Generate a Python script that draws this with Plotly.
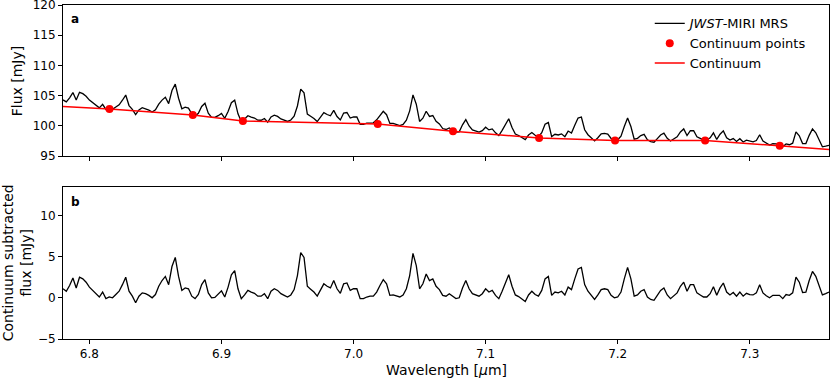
import numpy as np
import plotly.graph_objects as go

# wavelength grid of the extracted spectrum (micron)
wave_start = 6.78
wave_step = 0.0025

# continuum subtracted flux [mJy]
subtracted = [
    1.1, 0.8, 1.5, 2.4, 1.2, 2.5, 2.3, 1.9, 1.3, 0.9,
    0.4, 0.1, 0.7, -0.1, 0.1, 0.0, 0.4, 0.8, 1.6, 2.5,
    0.8, 0.2, -0.6, 0.2, 0.6, 0.5, 0.3, 0.0, 0.4, 1.4,
    2.1, 2.6, 1.6, 3.8, 4.9, 2.6, 0.9, 1.2, 1.1, 0.2,
    -0.1, 0.4, 1.6, 2.2, 0.6, 0.0, 0.05, 0.4, 0.85, 0.1,
    1.3, 2.8, 3.3, 1.1, -0.1, 0.35, 0.9, 0.7, 0.55, 0.2,
    0.2, 0.5, -0.1, 0.8, 1.1, 0.9, 0.5, 0.3, 0.1, 0.35,
    1.0, 2.7, 5.5, 4.9, 1.4, 1.05, 0.7, 0.2, 1.0, 1.7,
    1.4, 1.2, 2.1, 1.1, 0.55, 1.7, 1.8, 0.9, 1.1, 1.1,
    -0.1, -0.1, 0.1, 0.2, 0.2, 0.7, 1.5, 2.2, 1.7, 0.3,
    0.35, 0.2, 0.1, 0.35, 1.1, 2.7, 5.4, 3.9, 1.1, 1.7,
    2.9, 2.1, 2.3, 1.4, 1.0, 0.3, 0.2, 0.5, 0.2, -0.1,
    0.0, 1.2, 2.1, 1.1, 0.5, 0.35, 0.2, 0.5, 1.1, 0.7,
    0.9, 0.3, -0.1, 0.8, 1.9, 2.8, 1.4, 0.35, 0.15, -0.1,
    -0.45, 0.35, 0.8, 0.4, 0.2, 0.9, 2.3, 2.6, 0.3, 0.7,
    0.6, 0.8, 0.35, 1.3, 1.0, 2.3, 3.5, 3.7, 1.6, 0.8,
    0.35, -0.2, 0.35, 1.0, 1.1, 1.0, 0.3, 0.0, 0.1, 0.7,
    2.3, 3.7, 2.3, 0.2, 0.35, 0.8, 1.0, 0.1, -0.2, -0.3,
    0.3, 0.9, 1.2, 0.35, -0.1, 0.3, 0.6, 1.4, 1.9, 0.8,
    1.6, 1.6, 0.6, 0.35, 0.1, 0.1, 0.5, 1.35, 0.3, 1.2,
    1.8, 0.7, 0.35, 0.65, 0.2, 0.7, 0.2, 0.55, 0.4, 0.35,
    0.6, 1.6, 0.6, 0.25, 0.0, 0.3, 0.3, 0.3, -0.1, 0.4,
    0.3, 0.6, 2.5, 1.9, 0.65, 0.7, 2.1, 3.2, 2.6, 1.4,
    0.35, 0.5, 0.7,
]

# continuum anchor points
cont_wave = [6.8152, 6.8783, 6.9162, 7.0183, 7.0753, 7.1405, 7.1980, 7.2662, 7.3227]
cont_flux = [102.8, 101.8, 100.8, 100.3, 99.1, 98.0, 97.6, 97.6, 96.7]

# continuum values at the plot edges
edge_wave = [6.78, 7.36]
edge_flux = [103.2, 96.1]

tick_vals = [6.8, 6.9, 7.0, 7.1, 7.2, 7.3]

wave = wave_start + wave_step * np.arange(len(subtracted))
line_wave = [edge_wave[0]] + cont_wave + [edge_wave[1]]
line_flux = [edge_flux[0]] + cont_flux + [edge_flux[1]]
continuum = np.interp(wave, line_wave, line_flux)
flux = np.array(subtracted) + continuum

font = "DejaVu Sans"

fig = go.Figure()
fig.add_trace(go.Scatter(x=wave, y=flux, mode="lines", line=dict(color="black", width=1.3),
                         name="<i>JWST</i>-MIRI MRS", xaxis="x", yaxis="y"))
fig.add_trace(go.Scatter(x=cont_wave, y=cont_flux, mode="markers", marker=dict(color="red", size=8),
                         name="Continuum points", xaxis="x", yaxis="y"))
fig.add_trace(go.Scatter(x=line_wave, y=line_flux, mode="lines", line=dict(color="red", width=1.5),
                         name="Continuum", xaxis="x", yaxis="y"))
fig.add_trace(go.Scatter(x=wave, y=subtracted, mode="lines", line=dict(color="black", width=1.3),
                         showlegend=False, xaxis="x2", yaxis="y2"))

axis_style = dict(showline=True, linecolor="black", linewidth=1, mirror=True, ticks="outside",
                  ticklen=4, tickwidth=1, tickcolor="black", showgrid=False, zeroline=False,
                  automargin=False, ticklabeloverflow="allow", tickfont=dict(size=12, color="black"))

fig.update_layout(
    width=830, height=379,
    margin=dict(l=63, r=1, t=5, b=40, autoexpand=False),
    plot_bgcolor="white", paper_bgcolor="white",
    font=dict(family=font, color="black"),
    xaxis=dict(domain=[0, 1], range=[6.78, 7.36], anchor="y", showticklabels=False,
               tickvals=tick_vals, **axis_style),
    yaxis=dict(domain=[0.5475, 1], range=[95, 120], tickvals=[95, 100, 105, 110, 115, 120],
               anchor="x", **axis_style),
    xaxis2=dict(domain=[0, 1], range=[6.78, 7.36], anchor="y2",
                tickvals=tick_vals, ticktext=["%.1f" % v for v in tick_vals], **axis_style),
    yaxis2=dict(domain=[0, 0.4537], range=[-5, 13.4], tickvals=[-5, 0, 5, 10],
                ticktext=["\u22125", "0", "5", "10"], anchor="x2", **axis_style),
    legend=dict(x=0.766, y=0.99, xanchor="left", yanchor="top", bgcolor="rgba(0,0,0,0)",
                font=dict(size=13), itemwidth=30, tracegroupgap=0),
    annotations=[
        dict(text="<b>a</b>", x=0.008, y=0.957, xref="paper", yref="paper", xanchor="left", yanchor="middle",
             showarrow=False, font=dict(size=12)),
        dict(text="<b>b</b>", x=0.008, y=0.41, xref="paper", yref="paper", xanchor="left", yanchor="middle",
             showarrow=False, font=dict(size=12)),
        dict(text="Flux [mJy]", x=-0.059, y=0.774, xref="paper", yref="paper", xanchor="center",
             yanchor="middle", textangle=-90, showarrow=False, font=dict(size=14)),
        dict(text="Continuum subtracted<br>flux [mJy]", x=-0.06, y=0.227, xref="paper", yref="paper",
             xanchor="center", yanchor="middle", textangle=-90, showarrow=False, font=dict(size=14)),
        dict(text="Wavelength [<i>\u03bc</i>m]", x=0.5, y=-0.094, xref="paper", yref="paper",
             xanchor="center", yanchor="middle", showarrow=False, font=dict(size=14)),
    ],
)

# drop the default page margin so the figure sits at the window's corner
fig.write_html("out.html", config=dict(displayModeBar=False),
               post_script="document.body.style.margin='0';")
